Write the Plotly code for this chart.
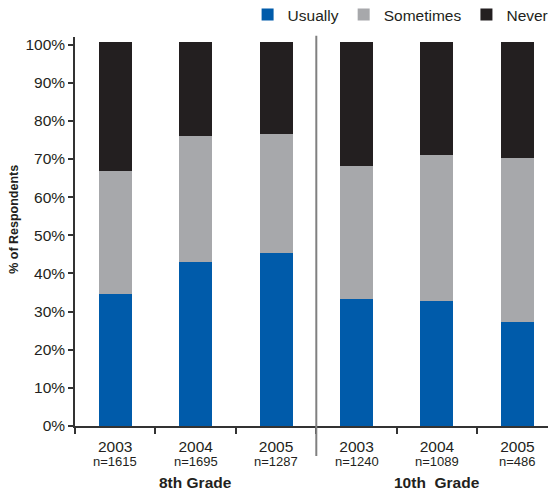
import plotly.graph_objects as go

categories = ["8th 2003", "8th 2004", "8th 2005", "10th 2003", "10th 2004", "10th 2005"]
years = ["2003", "2004", "2005", "2003", "2004", "2005"]
sample_sizes = ["n=1615", "n=1695", "n=1287", "n=1240", "n=1089", "n=486"]
groups = ["8th Grade", "10th  Grade"]
group_centers = ["8th 2004", "10th 2004"]

usually = [34.6, 43.1, 45.4, 33.3, 32.8, 27.3]
sometimes = [32.3, 33.0, 31.2, 34.9, 38.3, 43.0]
never = [33.9, 24.7, 24.2, 32.6, 29.7, 30.5]

series = [("Usually", usually, "#005BAA"),
          ("Sometimes", sometimes, "#A7A8AB"),
          ("Never", never, "#231F20")]

FONT = "Liberation Sans, Arial, Helvetica, sans-serif"
TXT = "#231F20"

fig = go.Figure()
for name, vals, col in series:
    fig.add_trace(go.Bar(x=categories, y=vals, name=name, marker_color=col,
                         marker_line_width=0, width=0.41))

annotations = []
for c, n in zip(categories, sample_sizes):
    annotations.append(dict(x=c, xref="x", y=-0.0925, yref="paper", text=n,
                            showarrow=False, yanchor="middle",
                            font=dict(family=FONT, size=13, color=TXT)))
for c, g in zip(group_centers, groups):
    annotations.append(dict(x=c, xref="x", y=-0.144, yref="paper", text="<b>" + g + "</b>",
                            showarrow=False, yanchor="middle",
                            font=dict(family=FONT, size=15.5, color=TXT)))
annotations.append(dict(x=-0.1268, xref="paper", y=0.53, yref="paper",
                        text="<b>% of Respondents</b>", textangle=-90, showarrow=False,
                        xanchor="center", yanchor="middle",
                        font=dict(family=FONT, size=12.5, color=TXT)))

# page body has an 8px margin, so the figure is sized and offset to compensate
fig.update_layout(
    barmode="stack",
    width=548, height=483,
    margin=dict(l=67, r=0, t=29, b=65, autoexpand=False),
    paper_bgcolor="white", plot_bgcolor="white",
    font=dict(family=FONT, size=15.5, color=TXT),
    showlegend=True,
    legend=dict(orientation="h", x=0.995, xanchor="right", y=1.0566, yanchor="middle",
                font=dict(family=FONT, size=15.5, color=TXT),
                traceorder="normal", itemwidth=30, bgcolor="rgba(0,0,0,0)"),
    xaxis=dict(type="category", categoryorder="array", categoryarray=categories,
               tickmode="array", tickvals=categories, ticktext=years,
               tickson="boundaries", ticks="outside", ticklen=6, tickwidth=1.5,
               tickcolor="#333", showline=True, linecolor="#333", linewidth=1.5,
               ticklabelstandoff=6,
               range=[-0.5, 5.48], showgrid=False, zeroline=False,
               tickfont=dict(family=FONT, size=15.5, color=TXT)),
    yaxis=dict(range=[0, 102], tickvals=[0, 10, 20, 30, 40, 50, 60, 70, 80, 90, 100],
               ticktext=[f"{v}%" for v in range(0, 101, 10)],
               ticks="outside", ticklen=5, tickwidth=1.5, tickcolor="#333",
               showline=True, linecolor="#333", linewidth=1.5,
               showgrid=False, zeroline=False,
               tickfont=dict(family=FONT, size=15.5, color=TXT)),
    annotations=annotations,
    shapes=[dict(type="line", xref="x", yref="paper", x0=2.5, x1=2.5,
                 y0=-0.077, y1=1.003, line=dict(color="#808080", width=2))],
)

fig.write_html("out.html")
